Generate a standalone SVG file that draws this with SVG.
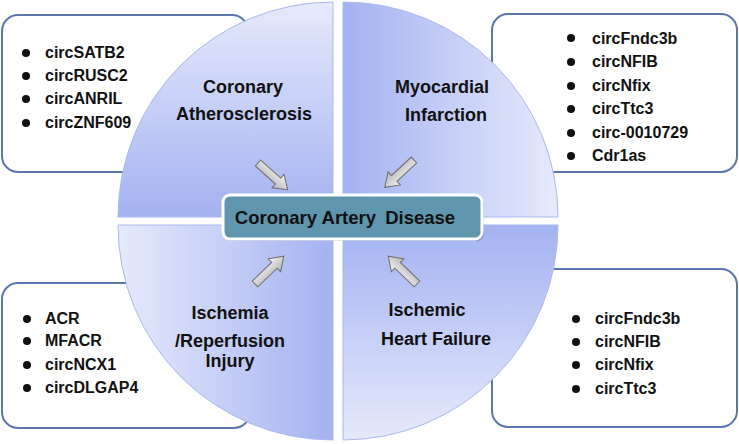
<svg xmlns="http://www.w3.org/2000/svg" width="739" height="444" viewBox="0 0 739 444">
<style>
.box{fill:#fff;stroke:#5b76ad;stroke-width:2}
.q{stroke:#aab8ee;stroke-width:1}
.t{font-family:"Liberation Sans",Arial,sans-serif;font-weight:bold;fill:#111}
.lbl{font-size:18px;text-anchor:middle}
.li{font-size:16px}
.arr{fill:url(#ga);stroke:#6e6e6e;stroke-width:1}
</style>
<defs>
<linearGradient id="gTL" x1="0" y1="0" x2="0" y2="1"><stop offset="0" stop-color="#e6eafc"/><stop offset="1" stop-color="#a3b2f1"/></linearGradient>
<linearGradient id="gTR" x1="0" y1="0" x2="1" y2="0"><stop offset="0" stop-color="#a3b2f1"/><stop offset="1" stop-color="#e6eafc"/></linearGradient>
<linearGradient id="gBR" x1="0" y1="0" x2="0" y2="1"><stop offset="0" stop-color="#a3b2f1"/><stop offset="1" stop-color="#e6eafc"/></linearGradient>
<linearGradient id="gBL" x1="0" y1="0" x2="1" y2="0"><stop offset="0" stop-color="#e6eafc"/><stop offset="1" stop-color="#a3b2f1"/></linearGradient>
<linearGradient id="ga" x1="0" y1="0" x2="0" y2="1"><stop offset="0" stop-color="#f4f4f4"/><stop offset="1" stop-color="#b4b4b4"/></linearGradient>
<path id="arrow" d="M0,-4 L27,-4 L27,-9 L40,0 L27,9 L27,4 L0,4 Z"/>
</defs>
<g id="box-tl"><rect class="box" x="2" y="15" width="246" height="157" rx="16"/></g>
<g id="box-tr"><rect class="box" x="492" y="14" width="245" height="158" rx="16"/></g>
<g id="box-bl"><rect class="box" x="2" y="283" width="248" height="145" rx="16"/></g>
<g id="box-br"><rect class="box" x="492" y="269" width="245" height="158" rx="16"/></g>
<g id="quad-tl"><path class="q" fill="url(#gTL)" d="M333,217 L118,217 A215,215 0 0 1 333,2 Z"/>
<text class="t lbl" x="243" y="93">Coronary</text><text class="t lbl" x="244" y="120">Atherosclerosis</text></g>
<g id="quad-tr"><path class="q" fill="url(#gTR)" d="M343,217 L343,2 A215,215 0 0 1 558,217 Z"/>
<text class="t lbl" x="442" y="93">Myocardial</text><text class="t lbl" x="446" y="121">Infarction</text></g>
<g id="quad-br"><path class="q" fill="url(#gBR)" d="M343,225 L558,225 A215,215 0 0 1 343,440 Z"/>
<text class="t lbl" x="427" y="316">Ischemic</text><text class="t lbl" x="436" y="345">Heart Failure</text></g>
<g id="quad-bl"><path class="q" fill="url(#gBL)" d="M333,225 L333,440 A215,215 0 0 1 118,225 Z"/>
<text class="t lbl" x="230" y="319">Ischemia</text><text class="t lbl" x="230" y="347">/Reperfusion</text><text class="t lbl" x="230" y="367">Injury</text></g>
<g id="list-tl" class="t li">
<circle cx="26" cy="53" r="4"/><text x="45" y="58">circSATB2</text>
<circle cx="26" cy="76" r="4"/><text x="45" y="81">circRUSC2</text>
<circle cx="26" cy="99" r="4"/><text x="45" y="104">circANRIL</text>
<circle cx="26" cy="123" r="4"/><text x="45" y="128">circZNF609</text>
</g>
<g id="list-tr" class="t li">
<circle cx="571" cy="38" r="4"/><text x="592" y="44">circFndc3b</text>
<circle cx="571" cy="62" r="4"/><text x="592" y="67">circNFIB</text>
<circle cx="571" cy="86" r="4"/><text x="592" y="91">circNfix</text>
<circle cx="571" cy="109" r="4"/><text x="592" y="114">circTtc3</text>
<circle cx="571" cy="133" r="4"/><text x="592" y="138">circ-0010729</text>
<circle cx="571" cy="156" r="4"/><text x="592" y="161">Cdr1as</text>
</g>
<g id="list-bl" class="t li">
<circle cx="27" cy="319" r="4"/><text x="45" y="324">ACR</text>
<circle cx="27" cy="341" r="4"/><text x="45" y="346">MFACR</text>
<circle cx="27" cy="365" r="4"/><text x="45" y="370">circNCX1</text>
<circle cx="27" cy="388" r="4"/><text x="45" y="393">circDLGAP4</text>
</g>
<g id="list-br" class="t li">
<circle cx="576" cy="319" r="4"/><text x="595" y="324">circFndc3b</text>
<circle cx="576" cy="342" r="4"/><text x="595" y="347">circNFIB</text>
<circle cx="576" cy="365" r="4"/><text x="595" y="370">circNfix</text>
<circle cx="576" cy="389" r="4"/><text x="595" y="394">circTtc3</text>
</g>
<g id="connectors">
<use href="#arrow" class="arr" transform="translate(258,163) rotate(42)"/>
<use href="#arrow" class="arr" transform="translate(414,160) rotate(137)"/>
<use href="#arrow" class="arr" transform="translate(255,284) rotate(-44)"/>
<use href="#arrow" class="arr" transform="translate(417,284) rotate(-136)"/>
</g>
<g id="center">
<rect x="225" y="197" width="259" height="44" rx="7" fill="#000" opacity="0.18"/>
<rect x="223" y="195" width="259" height="44" rx="7" fill="#5f96ad" stroke="#fff" stroke-width="3"/>
<text class="t" x="345" y="224" font-size="18.5" text-anchor="middle" fill="#0a0a0a">Coronary Artery <tspan dx="4">Disease</tspan></text>
</g>
</svg>
